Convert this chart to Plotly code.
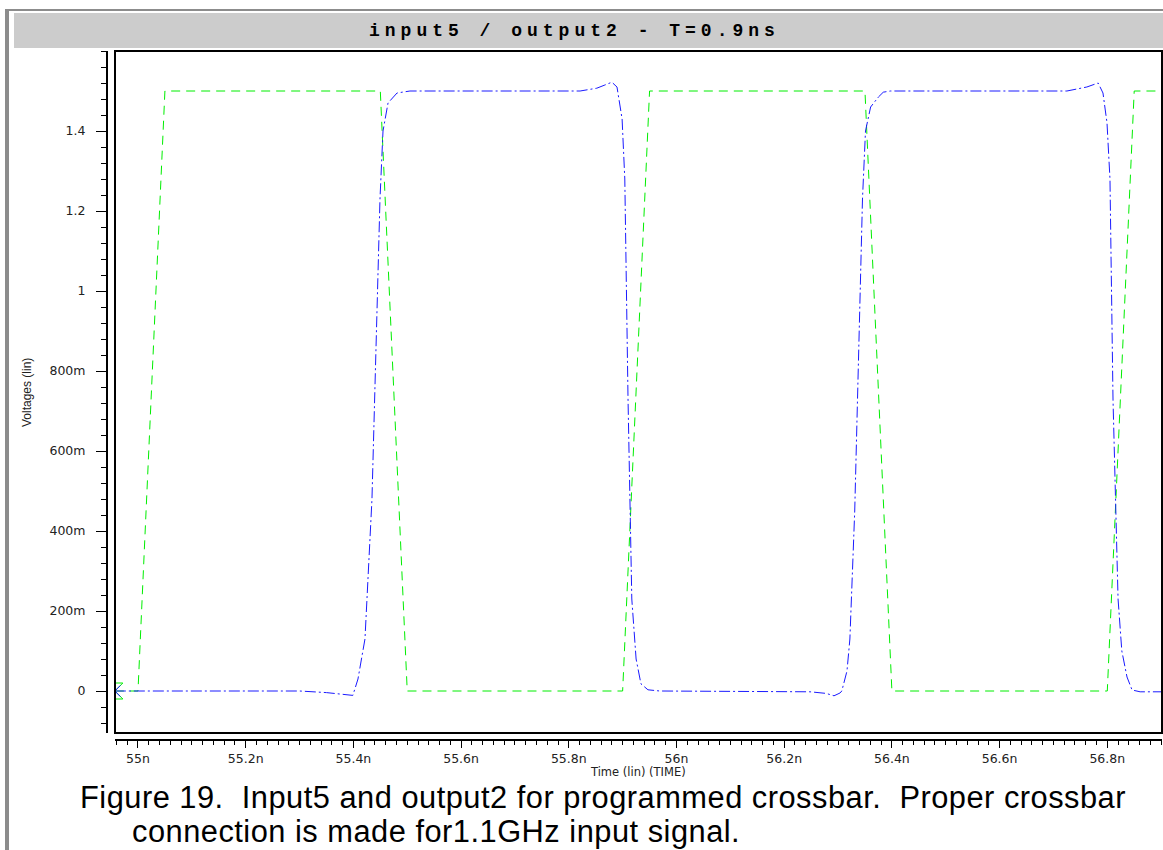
import plotly.graph_objects as go

# ---- data (time in ns, voltage in V) ----
input5_t = [54.957, 55.00, 55.05, 55.45, 55.50, 55.90, 55.95, 56.35, 56.40, 56.80, 56.85, 56.902]
input5_v = [0.0, 0.0, 1.5, 1.5, 0.0, 0.0, 1.5, 1.5, 0.0, 0.0, 1.5, 1.5]

output2_t = [54.957, 55.30, 55.35, 55.380, 55.399, 55.4085, 55.4215, 55.4345, 55.4438, 55.4494,
             55.455, 55.4643, 55.481, 55.505, 55.821, 55.852, 55.867, 55.880, 55.8895, 55.899,
             55.904, 55.910, 55.917, 55.925, 55.934, 55.947, 55.969, 56.248, 56.278, 56.2925,
             56.3036, 56.307, 56.3166, 56.322, 56.331, 56.339, 56.3454, 56.351, 56.3605, 56.375,
             56.384, 56.397, 56.725, 56.762, 56.783, 56.792, 56.7995, 56.803, 56.805, 56.8106,
             56.820, 56.827, 56.8366, 56.846, 56.861, 56.902]
output2_v = [0.0, 0.0, -0.004, -0.008, -0.011, 0.03, 0.13, 0.48, 0.98, 1.23,
             1.40, 1.47, 1.495, 1.50, 1.50, 1.507, 1.515, 1.522, 1.51, 1.43,
             1.28, 0.73, 0.23, 0.08, 0.018, 0.003, 0.0, -0.002, -0.006, -0.012,
             -0.005, 0.0, 0.05, 0.13, 0.45, 0.90, 1.23, 1.40, 1.46, 1.485,
             1.497, 1.50, 1.50, 1.51, 1.52, 1.495, 1.42, 1.33, 1.28, 0.73,
             0.23, 0.10, 0.035, 0.0025, -0.002, -0.002]

x_tickvals = [55.0, 55.2, 55.4, 55.6, 55.8, 56.0, 56.2, 56.4, 56.6, 56.8]
x_ticktext = ["55n", "55.2n", "55.4n", "55.6n", "55.8n", "56n", "56.2n", "56.4n", "56.6n", "56.8n"]
y_tickvals = [0.0, 0.2, 0.4, 0.6, 0.8, 1.0, 1.2, 1.4]
y_ticktext = ["0", "200m", "400m", "600m", "800m", "1", "1.2", "1.4"]

title_text = "input5 / output2 - T=0.9ns"
caption_1 = "Figure 19.  Input5 and output2 for programmed crossbar.  Proper crossbar"
caption_2 = "connection is made for1.1GHz input signal."

# ---- page geometry (pixels) ----
W, H = 1163, 850


def fx(p):
    return p / W


def fy(p):
    return 1 - p / H


PLOT_L, PLOT_R, PLOT_T, PLOT_B = 115, 1162, 51, 733

fig = go.Figure()

fig.add_trace(go.Scatter(
    x=input5_t, y=input5_v, mode="lines", name="input5",
    line=dict(color="#00ee00", width=1, dash="9px,6px"),
    hoverinfo="skip",
))
fig.add_trace(go.Scatter(
    x=output2_t, y=output2_v, mode="lines", name="output2",
    line=dict(color="#1a1aff", width=1, dash="11px,3px,2px,3px"),
    hoverinfo="skip",
))
# waveform start markers on the left edge (half clipped by the plot area)
fig.add_trace(go.Scatter(
    x=[input5_t[0]], y=[input5_v[0]], mode="markers",
    marker=dict(symbol="hourglass-open", size=16, color="#00ee00", line=dict(width=1, color="#00ee00")),
    hoverinfo="skip",
))
fig.add_trace(go.Scatter(
    x=[output2_t[0]], y=[output2_v[0]], mode="markers",
    marker=dict(symbol="x-thin-open", size=11, color="#1a1aff", line=dict(width=1, color="#1a1aff")),
    hoverinfo="skip",
))

tick_font = dict(family="DejaVu Sans", size=12.5, color="#222222")
caption_font = dict(family="Liberation Sans", size=30.8, color="black")

fig.update_layout(
    width=W, height=H,
    margin=dict(l=0, r=0, t=0, b=0),
    paper_bgcolor="white", plot_bgcolor="white",
    showlegend=False,
    xaxis=dict(
        domain=[fx(PLOT_L), fx(PLOT_R)],
        range=[54.9573, 56.9016],
        anchor="free", position=fy(740),
        showgrid=False, zeroline=False,
        showline=True, linecolor="black", linewidth=2,
        ticks="outside", ticklen=7, tickwidth=1, tickcolor="black",
        tickmode="array", tickvals=x_tickvals, ticktext=x_ticktext,
        tickfont=tick_font, ticklabelstandoff=0,
        minor=dict(tickmode="linear", tick0=55.0, dtick=0.02, ticks="outside",
                   ticklen=4, tickwidth=1, tickcolor="black", showgrid=False),
    ),
    yaxis=dict(
        domain=[fy(PLOT_B), fy(PLOT_T)],
        range=[-0.105, 1.6],
        anchor="free", position=fx(107),
        showgrid=False, zeroline=False,
        showline=True, linecolor="black", linewidth=2,
        ticks="outside", ticklen=10, tickwidth=1, tickcolor="black",
        tickmode="array", tickvals=y_tickvals, ticktext=y_ticktext,
        tickfont=tick_font, ticklabelstandoff=8,
        minor=dict(tickmode="linear", tick0=0.0, dtick=0.04, ticks="outside",
                   ticklen=5, tickwidth=1, tickcolor="black", showgrid=False),
    ),
    shapes=[
        # outer frame
        dict(type="rect", xref="paper", yref="paper", x0=fx(5), x1=fx(9), y0=0, y1=fy(9),
             fillcolor="#8c8c8c", line=dict(width=0), layer="below"),
        dict(type="rect", xref="paper", yref="paper", x0=fx(5), x1=1, y0=fy(11), y1=fy(9),
             fillcolor="#8c8c8c", line=dict(width=0), layer="below"),
        # title band
        dict(type="rect", xref="paper", yref="paper", x0=fx(14), x1=1, y0=fy(48), y1=fy(13),
             fillcolor="#cccccc", line=dict(width=0), layer="below"),
        # plot box
        dict(type="rect", xref="paper", yref="paper", x0=fx(PLOT_L), x1=fx(PLOT_R),
             y0=fy(PLOT_B), y1=fy(PLOT_T), line=dict(color="black", width=2), layer="above"),
    ],
    annotations=[
        dict(text='<span style="letter-spacing:5px">' + title_text + '</span>',
             x=fx(574), y=fy(31), xref="paper", yref="paper", showarrow=False,
             xanchor="center", yanchor="middle",
             font=dict(family="Liberation Mono", size=18, color="black", weight="bold")),
        dict(text="Voltages (lin)", textangle=-90,
             x=fx(27), y=fy(393), xref="paper", yref="paper", showarrow=False,
             xanchor="center", yanchor="middle",
             font=dict(family="Liberation Sans", size=12, color="#222222")),
        dict(text="Time (lin) (TIME)",
             x=fx(638), y=fy(772), xref="paper", yref="paper", showarrow=False,
             xanchor="center", yanchor="middle",
             font=dict(family="DejaVu Sans", size=11.5, color="#222222")),
        dict(text='<span style="letter-spacing:0.5px">' + caption_1 + '</span>',
             x=fx(78), y=fy(797), xref="paper", yref="paper", showarrow=False,
             xanchor="left", yanchor="middle", font=caption_font),
        dict(text='<span style="letter-spacing:0.5px">' + caption_2 + '</span>',
             x=fx(130), y=fy(831), xref="paper", yref="paper", showarrow=False,
             xanchor="left", yanchor="middle", font=caption_font),
    ],
)

fig.write_html("out.html")
